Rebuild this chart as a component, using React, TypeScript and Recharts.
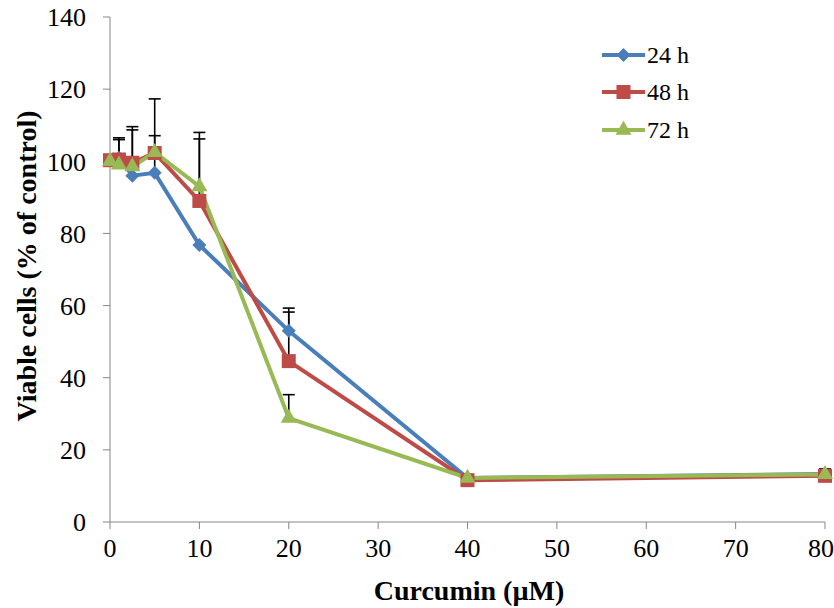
import React from "react";
import { LineChart, Line, XAxis, YAxis, ErrorBar } from "recharts";

// Curcumin dose (µM)
const doses = [0, 1, 2.5, 5, 10, 20, 40, 80];

// Viable cells (% of control)
const viab24 = [100.3, 101, 96, 96.8, 76.8, 53, 12.2, 13.3];
const viab48 = [100.3, 100.5, 99.6, 102.3, 89, 44.6, 11.6, 12.8];
const viab72 = [100, 99, 98.5, 102.5, 93, 28.8, 12.2, 13.2];

// upper error (SD); null = no bar shown
const err24 = [null, 5, 12.7, 10.3, null, 6.3, null, 1.4];
const err48 = [null, 6, 10, 15, 17.2, 13.6, null, null];
const err72 = [null, null, null, null, 15, 6.5, null, null];

const xTicks = [0, 10, 20, 30, 40, 50, 60, 70, 80];
const yTicks = [0, 20, 40, 60, 80, 100, 120, 140];

const COLORS = {
	h24: "#4A7EBB",
	h48: "#BE4B48",
	h72: "#98B954",
};

const FONT = "'Liberation Serif', 'Times New Roman', serif";

const upper = (v: number, e: number | null) => (e == null ? null : v + e);
const stem = (e: number | null) => (e == null ? null : [0, e]);

const data = doses.map((d, i) => ({
	dose: d,
	v24: viab24[i],
	v48: viab48[i],
	v72: viab72[i],
	e24: stem(err24[i]),
	e48: stem(err48[i]),
	e72: stem(err72[i]),
	t24: upper(viab24[i], err24[i]),
	t48: upper(viab48[i], err48[i]),
	t72: upper(viab72[i], err72[i]),
}));

const Diamond = ({ cx, cy, fill }: any) => {
	if (cx == null || cy == null) return null;
	const r = 7;
	return <polygon points={`${cx},${cy - r} ${cx + r},${cy} ${cx},${cy + r} ${cx - r},${cy}`} fill={fill} />;
};

const Square = ({ cx, cy, fill }: any) => {
	if (cx == null || cy == null) return null;
	const s = 14;
	return <rect x={cx - s / 2} y={cy - s / 2} width={s} height={s} fill={fill} />;
};

const Triangle = ({ cx, cy, fill }: any) => {
	if (cx == null || cy == null) return null;
	const w = 16;
	const h = 14;
	return (
		<polygon
			points={`${cx},${cy - (2 * h) / 3} ${cx + w / 2},${cy + h / 3} ${cx - w / 2},${cy + h / 3}`}
			fill={fill}
		/>
	);
};

// cap at the top of an error bar
const Cap = ({ cx, cy }: any) => {
	if (cx == null || cy == null) return null;
	return <line x1={cx - 6} y1={cy} x2={cx + 6} y2={cy} stroke="#000" strokeWidth={1.6} />;
};

const legendItems = [
	{ name: "24 h", color: COLORS.h24, Shape: Diamond },
	{ name: "48 h", color: COLORS.h48, Shape: Square },
	{ name: "72 h", color: COLORS.h72, Shape: Triangle },
];

const LegendBox = () => (
	<div style={{ position: "absolute", left: 601, top: 36, fontFamily: FONT, fontSize: 24, lineHeight: 1 }}>
		{legendItems.map((item) => (
			<div key={item.name} style={{ display: "flex", alignItems: "center", height: 37.5 }}>
				<svg width={45} height={20}>
					<line x1={1} y1={10} x2={44} y2={10} stroke={item.color} strokeWidth={4} />
					<item.Shape cx={22.5} cy={10} fill={item.color} />
				</svg>
				<span style={{ marginLeft: 1 }}>{item.name}</span>
			</div>
		))}
	</div>
);

export default function App() {
	const tickStyle = { fontSize: 26, fill: "#000", fontFamily: FONT };
	const hidden = { stroke: "none", activeDot: false, isAnimationActive: false } as const;
	return (
		<div style={{ position: "absolute", left: 0, top: 0, width: 834, height: 608, background: "#fff" }}>
			<LineChart width={834} height={608} data={data} margin={{ top: 17, right: 9, bottom: 0, left: 0 }}>
				<XAxis
					dataKey="dose"
					type="number"
					domain={[0, 80]}
					ticks={xTicks}
					tickSize={7}
					tickMargin={10}
					stroke="#868686"
					tick={tickStyle}
					height={86}
					label={() => (
						<text x={469} y={600} textAnchor="middle" fontFamily={FONT} fontWeight="bold" fontSize={28} fill="#000">
							Curcumin (µM)
						</text>
					)}
				/>
				<YAxis
					type="number"
					domain={[0, 140]}
					ticks={yTicks}
					tickSize={7}
					tickMargin={17}
					stroke="#868686"
					tick={tickStyle}
					width={110}
					label={() => (
						<text
							x={26}
							y={266}
							transform="rotate(-90 26 266)"
							textAnchor="middle"
							dominantBaseline="central"
							fontFamily={FONT}
							fontWeight="bold"
							fontSize={28}
							fill="#000"
						>
							Viable cells (% of control)
						</text>
					)}
				/>
				{/* error bar stems and caps go first so markers sit on top */}
				<Line dataKey="v24" dot={false} {...hidden}>
					<ErrorBar dataKey="e24" direction="y" width={0} stroke="#000" strokeWidth={1.6} />
				</Line>
				<Line dataKey="v48" dot={false} {...hidden}>
					<ErrorBar dataKey="e48" direction="y" width={0} stroke="#000" strokeWidth={1.6} />
				</Line>
				<Line dataKey="v72" dot={false} {...hidden}>
					<ErrorBar dataKey="e72" direction="y" width={0} stroke="#000" strokeWidth={1.6} />
				</Line>
				<Line dataKey="t24" dot={<Cap />} {...hidden} />
				<Line dataKey="t48" dot={<Cap />} {...hidden} />
				<Line dataKey="t72" dot={<Cap />} {...hidden} />
				<Line
					dataKey="v24"
					stroke={COLORS.h24}
					strokeWidth={4}
					dot={<Diamond fill={COLORS.h24} />}
					activeDot={false}
					isAnimationActive={false}
				/>
				<Line
					dataKey="v48"
					stroke={COLORS.h48}
					strokeWidth={4}
					dot={<Square fill={COLORS.h48} />}
					activeDot={false}
					isAnimationActive={false}
				/>
				<Line
					dataKey="v72"
					stroke={COLORS.h72}
					strokeWidth={4}
					dot={<Triangle fill={COLORS.h72} />}
					activeDot={false}
					isAnimationActive={false}
				/>
			</LineChart>
			<LegendBox />
		</div>
	);
}
